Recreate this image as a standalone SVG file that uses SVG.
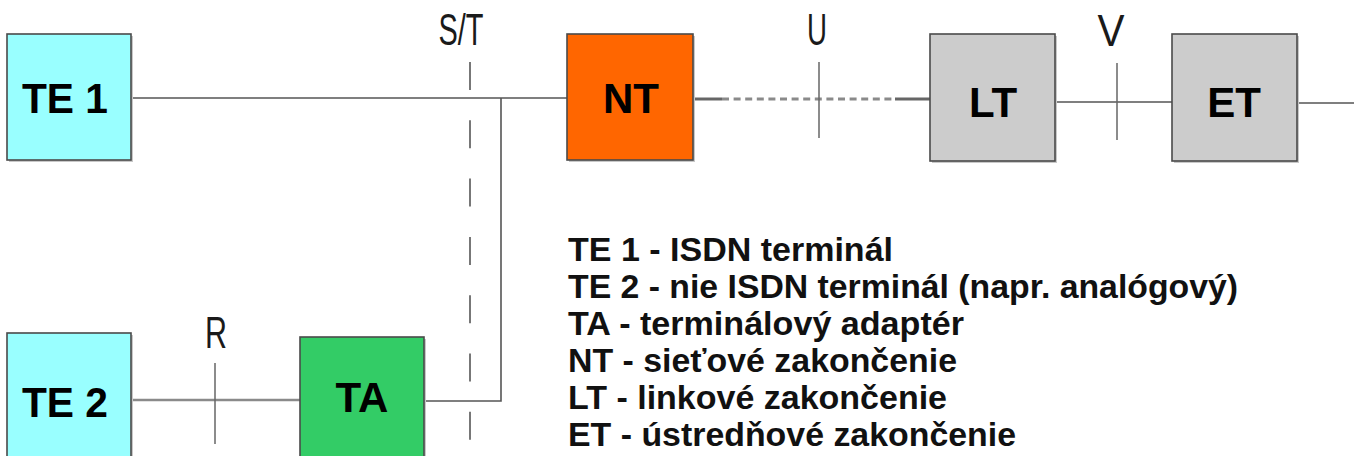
<svg xmlns="http://www.w3.org/2000/svg" width="1354" height="456" viewBox="0 0 1354 456">
<style>
.box{stroke:#4a4a4a;stroke-width:1.6}
.shadow{fill:#c8c8c8}
.lbl{font-family:"Liberation Sans",Arial,sans-serif;font-weight:bold;font-size:42px;fill:#000;text-anchor:middle}
.ref{font-family:"Liberation Sans",Arial,sans-serif;font-size:44px;fill:#1a1a1a;text-anchor:middle}
.leg{font-family:"Liberation Sans",Arial,sans-serif;font-weight:bold;font-size:34px;fill:#111}
.ln{stroke:#555;stroke-width:1.6;fill:none}
.tick{stroke:#666;stroke-width:1.5}
</style>
<rect width="1354" height="456" fill="#fff"/>
<g id="connectors">
<line class="ln" x1="131" y1="98" x2="567" y2="98"/>
<polyline class="ln" points="501,98 501,401 425,401"/>
<line x1="693" y1="99" x2="722" y2="99" stroke="#666" stroke-width="3"/>
<line x1="722" y1="99" x2="895" y2="99" stroke="#8a8a8a" stroke-width="3" stroke-dasharray="7,4.6"/>
<line x1="895" y1="99" x2="930" y2="99" stroke="#666" stroke-width="3"/>
<line class="ln" x1="1055" y1="102" x2="1172" y2="102"/>
<line class="ln" x1="1297" y1="103" x2="1354" y2="103"/>
<line x1="131" y1="400" x2="300" y2="400" stroke="#8a8a8a" stroke-width="2.5"/>
<line x1="470" y1="62" x2="470" y2="456" stroke="#777" stroke-width="2" stroke-dasharray="28,30.3"/>
<line class="tick" x1="819" y1="62" x2="819" y2="138"/>
<line class="tick" x1="1117" y1="63" x2="1117" y2="140"/>
<line class="tick" x1="215" y1="363" x2="215" y2="444"/>
</g>
<g id="labels-ref">
<text class="ref" x="461" y="45" textLength="45" lengthAdjust="spacingAndGlyphs">S/T</text>
<text class="ref" x="817" y="45" textLength="20" lengthAdjust="spacingAndGlyphs">U</text>
<text class="ref" x="1111" y="46" textLength="27" lengthAdjust="spacingAndGlyphs">V</text>
<text class="ref" x="216" y="348" textLength="22" lengthAdjust="spacingAndGlyphs">R</text>
</g>
<g id="TE1"><rect class="shadow" x="9" y="36" width="124" height="126"/><rect class="box" x="7" y="34" width="124" height="126" fill="#99ffff"/><text class="lbl" x="65" y="113" textLength="86" lengthAdjust="spacingAndGlyphs">TE 1</text></g>
<g id="NT"><rect class="shadow" x="569" y="36" width="126" height="126"/><rect class="box" x="567" y="34" width="126" height="126" fill="#ff6600"/><text class="lbl" x="631" y="113">NT</text></g>
<g id="LT"><rect class="shadow" x="932" y="36" width="125" height="127"/><rect class="box" x="930" y="34" width="125" height="127" fill="#cccccc"/><text class="lbl" x="993" y="117">LT</text></g>
<g id="ET"><rect class="shadow" x="1174" y="36" width="125" height="127"/><rect class="box" x="1172" y="34" width="125" height="127" fill="#cccccc"/><text class="lbl" x="1234" y="117">ET</text></g>
<g id="TE2"><rect class="shadow" x="9" y="335" width="124" height="130"/><rect class="box" x="7" y="333" width="124" height="130" fill="#99ffff"/><text class="lbl" x="65" y="417" textLength="86" lengthAdjust="spacingAndGlyphs">TE 2</text></g>
<g id="TA"><rect class="shadow" x="302" y="339" width="124" height="126"/><rect class="box" x="300" y="337" width="124" height="126" fill="#33cc66"/><text class="lbl" x="362" y="412">TA</text></g>
<g id="legend">
<text class="leg" x="568" y="261" textLength="325" lengthAdjust="spacingAndGlyphs">TE 1 - ISDN terminál</text>
<text class="leg" x="568" y="298" textLength="670" lengthAdjust="spacingAndGlyphs">TE 2 - nie ISDN terminál (napr. analógový)</text>
<text class="leg" x="568" y="335" textLength="396" lengthAdjust="spacingAndGlyphs">TA - terminálový adaptér</text>
<text class="leg" x="568" y="372" textLength="389" lengthAdjust="spacingAndGlyphs">NT - sieťové zakončenie</text>
<text class="leg" x="568" y="409" textLength="379" lengthAdjust="spacingAndGlyphs">LT - linkové zakončenie</text>
<text class="leg" x="568" y="446" textLength="448" lengthAdjust="spacingAndGlyphs">ET - ústredňové zakončenie</text>
</g>
</svg>
